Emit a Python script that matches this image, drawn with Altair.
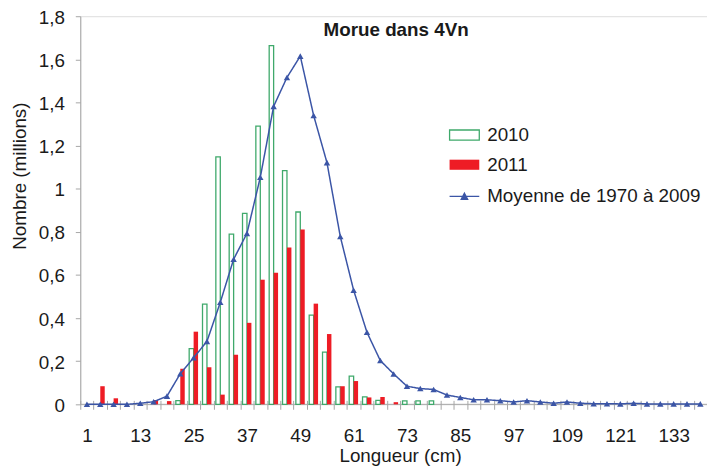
import altair as alt
import pandas as pd

FONT = "Liberation Sans"
TXT = "#1a1a1a"
GRAY = "#a6a6a6"
GREEN = "#3fa96b"
RED = "#ee1c25"
BLUE = "#3b55a6"

longueur = [1, 4, 7, 10, 13, 16, 19, 22, 25, 28, 31, 34, 37, 40, 43, 46, 49, 52, 55, 58,
            61, 64, 67, 70, 73, 76, 79, 82, 85, 88, 91, 94, 97, 100, 103, 106, 109, 112,
            115, 118, 121, 124, 127, 130, 133, 136, 139]

moyenne = [0, 0, 0, 0, 0.005, 0.012, 0.038, 0.142, 0.216, 0.292, 0.473, 0.673, 0.793,
           1.053, 1.382, 1.516, 1.615, 1.340, 1.121, 0.778, 0.529, 0.334, 0.203, 0.141,
           0.084, 0.073, 0.069, 0.043, 0.032, 0.021, 0.021, 0.017, 0.011, 0.017, 0.011,
           0.005, 0.011, 0.005, 0.003, 0.003, 0.002, 0.005, 0.002, 0.002, 0.002, 0.002, 0.002]

n2010 = [0, 0, 0, 0, 0, 0, 0, 0.017, 0.258, 0.465, 1.148, 0.789, 0.886, 1.290, 1.664,
         1.084, 0.892, 0.414, 0.242, 0.081, 0.131, 0.035, 0.018, 0, 0.016, 0.016, 0.016,
         0, 0, 0, 0, 0, 0, 0, 0, 0, 0, 0, 0, 0, 0, 0, 0, 0, 0, 0, 0]

n2011 = [0, 0.084, 0.028, 0, 0, 0.020, 0.015, 0.165, 0.337, 0.172, 0.045, 0.230, 0.378,
         0.578, 0.610, 0.727, 0.811, 0.467, 0.326, 0.084, 0.108, 0.032, 0.034, 0.010,
         0, 0, 0, 0, 0, 0, 0, 0, 0, 0, 0, 0, 0, 0, 0, 0, 0, 0, 0, 0, 0, 0, 0]

y_ticks = [0, 0.2, 0.4, 0.6, 0.8, 1.0, 1.2, 1.4, 1.6, 1.8]
titre = "Morue dans 4Vn"

bars_df = pd.DataFrame({
    "Longueur": longueur + longueur,
    "Serie": ["2010"] * len(longueur) + ["2011"] * len(longueur),
    "Nombre": n2010 + n2011,
})
line_df = pd.DataFrame({
    "Longueur": longueur,
    "Nombre": moyenne,
    "Serie": ["Moyenne de 1970 à 2009"] * len(longueur),
})
one_df = pd.DataFrame({"z": [0]})

x_enc = alt.X(
    "Longueur:O",
    scale=alt.Scale(paddingInner=0, paddingOuter=0),
    axis=alt.Axis(
        labelExpr="(datum.value - 1) % 12 == 0 ? datum.label : ''",
        labelAngle=0, labelOverlap=False, labelFont=FONT, labelFontSize=19,
        labelColor=TXT, labelPadding=18,
        tickBand="extent", tickSize=9, tickColor=GRAY, tickWidth=1,
        offset=-4, domain=False, grid=False,
        title="Longueur (cm)", titleFont=FONT, titleFontSize=19,
        titleFontWeight="normal", titleColor=TXT, titleBaseline="alphabetic",
        titleAlign="center", titleX=323, titleY=62,
    ),
)

y_enc = alt.Y(
    "Nombre:Q",
    scale=alt.Scale(domain=[0, 1.8], nice=False, zero=True),
    axis=alt.Axis(
        values=y_ticks,
        labelExpr="replace(format(datum.value, '.1~f'), '.', ',')",
        labelFont=FONT, labelFontSize=19, labelColor=TXT, labelPadding=11,
        labelOffset=1,
        tickSize=5, tickColor=GRAY, domainColor=GRAY, grid=False,
        title="Nombre (millions)", titleFont=FONT, titleFontSize=19,
        titleFontWeight="normal", titleColor=TXT,
        titleAngle=270, titleAlign="center", titleBaseline="middle",
        titleX=-61, titleY=161,
    ),
)

RECT_PATH = "M-1,-0.34H1V0.34H-1Z"
LINE_PATH = "M-1,0H1M-0.22,0.2L0,-0.22L0.22,0.2Z"

bar_legend = alt.Legend(
    title=None, orient="none", legendX=372, legendY=104,
    symbolType=RECT_PATH, symbolSize=900, symbolStrokeWidth=1.3,
    labelFont=FONT, labelFontSize=19, labelColor=TXT, labelOffset=7,
    rowPadding=4, padding=0, labelLimit=300,
)

baseline = alt.Chart(one_df).mark_rule(color=GRAY, strokeWidth=1).encode(
    y=alt.datum(0)
)

bars = alt.Chart(bars_df).transform_filter("datum.Nombre > 0").mark_bar(
    strokeWidth=1.3
).encode(
    x=x_enc,
    xOffset=alt.XOffset("Serie:N", scale=alt.Scale(paddingInner=0, paddingOuter=0.5)),
    y=y_enc,
    fill=alt.Fill("Serie:N", scale=alt.Scale(domain=["2010", "2011"], range=["#ffffff", RED]),
                  legend=bar_legend),
    stroke=alt.Stroke("Serie:N", scale=alt.Scale(domain=["2010", "2011"], range=[GREEN, "transparent"]),
                      legend=bar_legend),
)

line = alt.Chart(line_df).mark_line(color=BLUE, strokeWidth=1.5).encode(
    x=x_enc,
    y=y_enc,
    strokeDash=alt.StrokeDash(
        "Serie:N", scale=alt.Scale(range=[[1, 0]]),
        legend=alt.Legend(
            title=None, orient="none", legendX=372, legendY=166,
            symbolType=LINE_PATH, symbolSize=900, symbolStrokeWidth=1.3,
            symbolStrokeColor=BLUE, symbolFillColor=BLUE,
            labelFont=FONT, labelFontSize=19, labelColor=TXT, labelOffset=7,
            padding=0, labelLimit=300,
        ),
    ),
)

points = alt.Chart(line_df).mark_point(
    shape="triangle-up", filled=True, size=42, color=BLUE, opacity=1
).encode(x=x_enc, y=y_enc)

title_layer = alt.Chart(one_df).mark_text(
    font=FONT, fontSize=19, fontWeight="bold", color=TXT,
    align="center", baseline="alphabetic",
).encode(
    x=alt.value(319),
    y=alt.value(20),
    text=alt.value(titre),
)

chart = alt.layer(baseline, bars, line, points, title_layer).properties(
    width=633,
    height=392,
    autosize=alt.AutoSizeParams(type="none"),
    padding={"left": 73, "top": 6, "right": 0, "bottom": 62},
).configure_view(stroke=None).configure(background="white")

chart.save("out.html", embed_options={"renderer": "svg", "actions": False})
